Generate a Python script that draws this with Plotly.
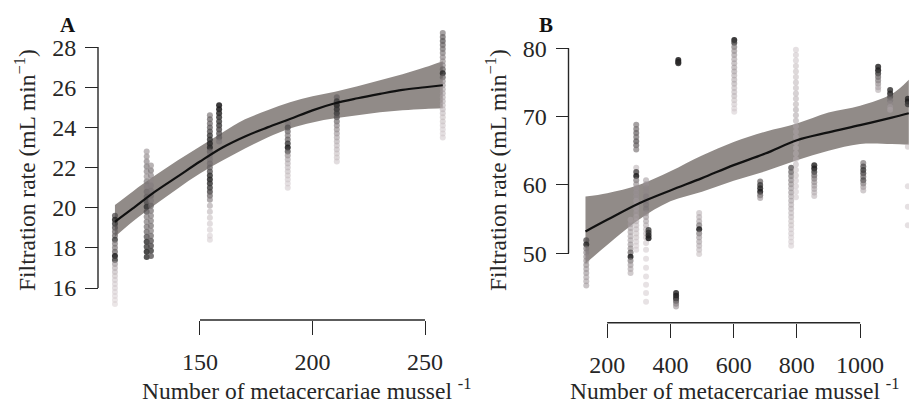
import plotly.graph_objects as go

W, H = 909, 403

# ---------------- Panel A data ----------------
a_cols = [112.2, 126.3, 128.2, 154.4, 158.5, 189.0, 210.8, 257.9]
a_y = [
    [19.6, 19.4, 19.2, 19.0, 18.8, 18.6, 18.4, 18.2, 18.0, 17.8, 17.6, 17.4, 17.2, 17.0, 16.8, 16.6, 16.4, 16.2, 16.0, 15.8, 15.6, 15.4, 15.2],
    [22.8, 22.55, 22.3, 22.05, 21.8, 21.55, 21.3, 21.05, 20.8, 20.55, 20.3, 20.05, 19.8, 19.55, 19.3, 19.05, 18.8, 18.55, 18.3, 18.05, 17.8, 17.55],
    [22.1, 21.85, 21.6, 21.35, 21.1, 20.85, 20.6, 20.35, 20.1, 19.85, 19.6, 19.35, 19.1, 18.85, 18.6, 18.35, 18.1, 17.85, 17.6],
    [24.6, 24.4, 24.2, 24.0, 23.8, 23.6, 23.4, 23.2, 23.0, 22.8, 22.6, 22.4, 22.2, 22.0, 21.8, 21.6, 21.4, 21.2, 21.0, 20.8, 20.6, 20.4, 20.1, 19.8, 19.5, 19.2, 18.9, 18.6, 18.4],
    [25.1, 24.9, 24.7, 24.5, 24.3, 24.1, 23.9, 23.7, 23.5, 23.3],
    [24.2, 24.0, 23.8, 23.6, 23.4, 23.2, 23.0, 22.8, 22.6, 22.4, 22.2, 22.0, 21.8, 21.6, 21.4, 21.2, 21.0],
    [25.5, 25.3, 25.1, 24.9, 24.7, 24.5, 24.3, 24.1, 23.9, 23.7, 23.5, 23.3, 23.1, 22.9, 22.7, 22.5, 22.3],
    [28.7, 28.5, 28.3, 28.1, 27.9, 27.7, 27.5, 27.3, 27.1, 26.9, 26.7, 26.5, 26.3, 26.1, 25.9, 25.7, 25.5, 25.3, 25.1, 24.9, 24.7, 24.5, 24.3, 24.1, 23.9, 23.7, 23.5],
]
a_shade = [
    [0.7, 0.9, 0.8, 0.7, 0.6, 0.6, 0.8, 0.5, 0.5, 0.6, 0.95, 0.8, 0.35, 0.25, 0.2, 0.15, 0.12, 0.1, 0.1, 0.08, 0.06, 0.05, 0.05],
    [0.35, 0.4, 0.45, 0.5, 0.45, 0.4, 0.5, 0.45, 0.55, 0.6, 0.7, 0.85, 0.7, 0.5, 0.5, 0.55, 0.6, 0.7, 0.85, 0.8, 0.9, 0.85],
    [0.4, 0.5, 0.45, 0.4, 0.45, 0.5, 0.55, 0.5, 0.6, 0.55, 0.5, 0.5, 0.55, 0.5, 0.6, 0.7, 0.75, 0.8, 0.7],
    [0.5, 0.6, 0.6, 0.65, 0.7, 0.8, 0.85, 0.9, 0.9, 0.6, 0.5, 0.5, 0.55, 0.6, 0.7, 0.85, 0.9, 0.85, 0.8, 0.75, 0.6, 0.45, 0.3, 0.2, 0.15, 0.12, 0.1, 0.08, 0.08],
    [0.95, 0.95, 0.9, 0.85, 0.8, 0.8, 0.75, 0.7, 0.65, 0.5],
    [0.5, 0.7, 0.6, 0.5, 0.6, 0.8, 0.95, 0.7, 0.4, 0.3, 0.25, 0.2, 0.18, 0.15, 0.12, 0.1, 0.1],
    [0.6, 0.8, 0.9, 0.85, 0.8, 0.7, 0.55, 0.45, 0.4, 0.35, 0.3, 0.25, 0.2, 0.2, 0.15, 0.15, 0.12],
    [0.5, 0.6, 0.65, 0.6, 0.55, 0.5, 0.45, 0.4, 0.45, 0.6, 0.9, 0.6, 0.4, 0.35, 0.3, 0.3, 0.25, 0.25, 0.2, 0.2, 0.18, 0.15, 0.15, 0.12, 0.1, 0.1, 0.1],
]
a_fit_x = [112.2, 120, 130, 140, 150, 160, 170, 180, 190, 200, 210, 220, 230, 240, 250, 257.9]
a_fit = [19.3, 19.95, 20.8, 21.55, 22.3, 23.0, 23.55, 24.0, 24.42, 24.85, 25.2, 25.45, 25.67, 25.87, 26.0, 26.1]
a_hi = [20.13, 20.8, 21.6, 22.35, 23.05, 23.75, 24.4, 24.85, 25.25, 25.55, 25.78, 26.05, 26.35, 26.65, 27.0, 27.3]
a_lo = [18.55, 19.3, 20.15, 20.95, 21.7, 22.35, 22.95, 23.5, 23.95, 24.25, 24.45, 24.6, 24.75, 24.85, 24.92, 24.95]
a_xticks = [150, 200, 250]
a_yticks = [16, 18, 20, 22, 24, 26, 28]

# ---------------- Panel B data ----------------
b_cols = [134, 274, 292, 323, 331, 418, 425, 491, 602, 684, 782, 797, 855, 1010, 1057, 1095, 1151]
b_y = [
    [51.9, 51.3, 50.7, 50.1, 49.5, 48.9, 48.3, 47.7, 47.1, 46.5, 45.9, 45.3],
    [54.9, 54.3, 53.7, 53.1, 52.5, 51.9, 51.3, 50.7, 50.1, 49.5, 48.9, 48.3, 47.7, 47.1],
    [68.8, 68.2, 67.6, 67.0, 66.4, 65.8, 65.2, 62.5, 61.9, 61.3, 60.7, 60.1, 59.5, 58.9, 58.3, 57.7, 57.1, 56.5, 55.9, 55.3, 54.7, 54.1, 53.5, 52.9, 52.3, 51.7, 51.1, 50.5],
    [60.7, 60.1, 59.5, 58.9, 58.3, 57.7, 57.1, 56.5, 55.9, 55.3, 54.7, 54.1, 53.5, 52.9, 52.3, 51.5, 50.5, 49.2, 47.9, 46.6, 45.4, 44.2, 42.9],
    [53.4, 53.0, 52.6, 52.2],
    [44.2, 43.8, 43.4, 43.0, 42.6, 42.2],
    [78.3, 78.0, 77.8],
    [55.9, 55.3, 54.7, 54.1, 53.5, 52.9, 52.3, 51.7, 51.1, 50.5, 49.9],
    [81.2, 80.8, 80.2, 79.6, 79.0, 78.4, 77.8, 77.2, 76.6, 76.0, 75.4, 74.8, 74.2, 73.6, 73.0, 72.4, 71.8, 71.2, 70.7],
    [60.5, 60.0, 59.5, 59.0, 58.5, 58.1],
    [62.5, 61.9, 61.3, 60.7, 60.1, 59.5, 58.9, 58.3, 57.7, 57.1, 56.5, 55.9, 55.3, 54.7, 54.1, 53.5, 52.9, 52.3, 51.7, 51.1],
    [79.8, 79.0, 78.2, 77.4, 76.6, 75.8, 75.0, 74.2, 73.4, 72.6, 71.8, 71.0, 70.2, 69.4, 68.6, 67.8, 67.0, 66.2, 65.4, 64.6, 63.8, 63.0, 62.2, 61.4, 60.6, 59.8, 59.0, 58.2],
    [62.9, 62.4, 61.9, 61.4, 60.9, 60.4, 59.9, 59.4, 58.9, 58.4],
    [63.2, 62.7, 62.2, 61.7, 61.2, 60.7, 60.2, 59.7, 59.2],
    [77.3, 76.8, 76.3, 75.8, 75.3, 74.8, 74.3, 73.9],
    [73.9, 73.4, 72.9, 72.4, 71.9, 71.4, 71.0],
    [72.6, 72.2, 71.8, 65.6, 59.8, 56.8, 54.1],
]
b_shade = [
    [0.7, 0.9, 0.5, 0.45, 0.4, 0.4, 0.4, 0.35, 0.35, 0.3, 0.3, 0.3],
    [0.25, 0.3, 0.3, 0.3, 0.3, 0.3, 0.35, 0.4, 0.6, 0.95, 0.5, 0.35, 0.3, 0.25],
    [0.5, 0.55, 0.6, 0.55, 0.65, 0.6, 0.5, 0.2, 0.75, 0.95, 0.5, 0.4, 0.35, 0.35, 0.35, 0.3, 0.3, 0.3, 0.3, 0.25, 0.25, 0.2, 0.2, 0.15, 0.15, 0.12, 0.1, 0.1],
    [0.3, 0.35, 0.4, 0.4, 0.45, 0.45, 0.5, 0.5, 0.4, 0.35, 0.3, 0.25, 0.2, 0.2, 0.15, 0.12, 0.1, 0.08, 0.08, 0.08, 0.08, 0.08, 0.08],
    [0.8, 0.85, 0.9, 0.95],
    [0.9, 0.95, 0.9, 0.7, 0.5, 0.35],
    [0.95, 0.95, 0.9],
    [0.2, 0.25, 0.3, 0.5, 0.95, 0.5, 0.35, 0.3, 0.25, 0.2, 0.15],
    [0.95, 0.8, 0.5, 0.4, 0.35, 0.3, 0.3, 0.3, 0.3, 0.25, 0.25, 0.25, 0.2, 0.2, 0.2, 0.15, 0.12, 0.1, 0.08],
    [0.6, 0.8, 0.9, 0.95, 0.6, 0.35],
    [0.7, 0.6, 0.5, 0.45, 0.4, 0.35, 0.35, 0.3, 0.3, 0.25, 0.25, 0.2, 0.2, 0.15, 0.15, 0.12, 0.12, 0.1, 0.1, 0.08],
    [0.1, 0.12, 0.12, 0.15, 0.15, 0.15, 0.18, 0.18, 0.2, 0.2, 0.22, 0.25, 0.25, 0.25, 0.25, 0.25, 0.25, 0.22, 0.2, 0.2, 0.18, 0.18, 0.15, 0.15, 0.12, 0.12, 0.1, 0.1],
    [0.9, 0.95, 0.8, 0.6, 0.5, 0.4, 0.35, 0.3, 0.25, 0.2],
    [0.5, 0.7, 0.8, 0.75, 0.6, 0.7, 0.5, 0.35, 0.25],
    [0.9, 0.95, 0.8, 0.6, 0.5, 0.4, 0.3, 0.25],
    [0.85, 0.9, 0.7, 0.5, 0.4, 0.3, 0.25],
    [0.9, 0.95, 0.8, 0.15, 0.1, 0.1, 0.1],
]
b_fit_x = [131.5, 200, 300, 400, 500, 600, 700, 800, 900, 1000, 1100, 1154]
b_fit = [53.2, 54.9, 57.3, 59.2, 61.0, 62.9, 64.6, 66.55, 67.7, 68.75, 69.85, 70.5]
b_hi = [58.3, 58.8, 60.0, 62.0, 64.3, 66.3, 67.8, 69.0, 70.6, 71.6, 73.3, 75.4]
b_lo = [48.5, 51.2, 54.9, 57.6, 59.0, 60.6, 62.0, 63.6, 65.0, 66.0, 66.0, 65.9]
b_xticks = [200, 400, 600, 800, 1000]
b_yticks = [50, 60, 70, 80]

FONT = "Liberation Serif"
INK = "#262626"
BAND = "rgb(145,139,136)"


def px_x(p):
    return p / W


def px_y(p):
    return 1 - p / H


def point_colour(s):
    light = (222, 210, 214)
    dark = (22, 22, 22)
    r, g, b = (round(l + (d - l) * s) for l, d in zip(light, dark))
    return f"rgba({r},{g},{b},{0.45 + 0.45 * s:.2f})"


def flatten(cols, ys, shades):
    xs, yy, cc = [], [], []
    for x, col_y, col_s in zip(cols, ys, shades):
        for y, s in zip(col_y, col_s):
            xs.append(x)
            yy.append(y)
            cc.append(point_colour(s))
    return xs, yy, cc


fig = go.Figure()


def add_panel(xa, ya, cols, ys, shades, fx, fit, lo, hi):
    fig.add_trace(go.Scatter(x=fx, y=lo, mode="lines", line=dict(width=0, shape="spline"),
                             xaxis=xa, yaxis=ya, hoverinfo="skip", showlegend=False))
    fig.add_trace(go.Scatter(x=fx, y=hi, mode="lines", line=dict(width=0, shape="spline"),
                             fill="tonexty", fillcolor=BAND,
                             xaxis=xa, yaxis=ya, hoverinfo="skip", showlegend=False))
    xs, yy, cc = flatten(cols, ys, shades)
    fig.add_trace(go.Scatter(x=xs, y=yy, mode="markers",
                             marker=dict(size=6, color=cc, line=dict(width=0)),
                             xaxis=xa, yaxis=ya, showlegend=False))
    fig.add_trace(go.Scatter(x=fx, y=fit, mode="lines",
                             line=dict(color="#111111", width=2.2, shape="spline"),
                             xaxis=xa, yaxis=ya, showlegend=False))


add_panel("x", "y", a_cols, a_y, a_shade, a_fit_x, a_fit, a_lo, a_hi)
add_panel("x2", "y2", b_cols, b_y, b_shade, b_fit_x, b_fit, b_lo, b_hi)

tickfont = dict(family=FONT, size=24, color=INK)
common = dict(showgrid=False, zeroline=False, showline=False, ticks="outside",
              tickcolor=INK, tickwidth=1.4, tickfont=tickfont, anchor="free")

# panel A: x 104.67..262 over px 98..452, y 14.506..29.35 over px 318..20
a_xpos = px_y(320)
a_ypos = px_x(98)
b_xpos = px_y(322.7)
b_ypos = px_x(568.5)

fig.update_layout(
    width=W, height=H, margin=dict(l=0, r=0, t=0, b=0),
    paper_bgcolor="white", plot_bgcolor="white",
    xaxis=dict(domain=[px_x(98), px_x(452)], range=[104.67, 262], tickvals=a_xticks,
               position=a_xpos, ticklen=14, ticklabelstandoff=6, **common),
    yaxis=dict(domain=[px_y(318), px_y(20)], range=[14.506, 29.35], tickvals=a_yticks,
               position=a_ypos, ticklen=13, ticklabelstandoff=4, **common),
    xaxis2=dict(domain=[px_x(568.5), 1.0], range=[77.8, 1154.6], tickvals=b_xticks,
                position=b_xpos, ticklen=14, ticklabelstandoff=6, **common),
    yaxis2=dict(domain=[px_y(318), px_y(20)], range=[40.53, 84.14], tickvals=b_yticks,
                position=b_ypos, ticklen=13, ticklabelstandoff=4, **common),
)

# detached axis lines spanning only the labelled tick range
axis_line = dict(color=INK, width=1.4)
fig.add_shape(type="line", xref="x", yref="paper", x0=a_xticks[0], x1=a_xticks[-1],
              y0=a_xpos, y1=a_xpos, line=axis_line)
fig.add_shape(type="line", xref="paper", yref="y", x0=a_ypos, x1=a_ypos,
              y0=a_yticks[0], y1=a_yticks[-1], line=axis_line)
fig.add_shape(type="line", xref="x2", yref="paper", x0=b_xticks[0], x1=b_xticks[-1],
              y0=b_xpos, y1=b_xpos, line=axis_line)
fig.add_shape(type="line", xref="paper", yref="y2", x0=b_ypos, x1=b_ypos,
              y0=b_yticks[0], y1=b_yticks[-1], line=axis_line)

title_font = dict(family=FONT, size=23.5, color=INK)
x_title = "Number of metacercariae mussel <sup>-1</sup>"
y_title = "Filtration rate (mL min<sup>−1</sup>)"
for cx, label, lx in [(307, "A", 68), (735, "B", 546)]:
    fig.add_annotation(x=px_x(cx), y=px_y(389), xref="paper", yref="paper",
                       text=x_title, showarrow=False, font=title_font,
                       xanchor="center", yanchor="middle")
    fig.add_annotation(x=px_x(lx), y=px_y(25), xref="paper", yref="paper",
                       text=f"<b>{label}</b>", showarrow=False,
                       font=dict(family=FONT, size=21, color="#111111"),
                       xanchor="center", yanchor="middle")
for cx in (25, 496):
    fig.add_annotation(x=px_x(cx), y=px_y(170), xref="paper", yref="paper",
                       text=y_title, textangle=-90, showarrow=False, font=title_font,
                       xanchor="center", yanchor="middle")

fig.write_html("out.html")
